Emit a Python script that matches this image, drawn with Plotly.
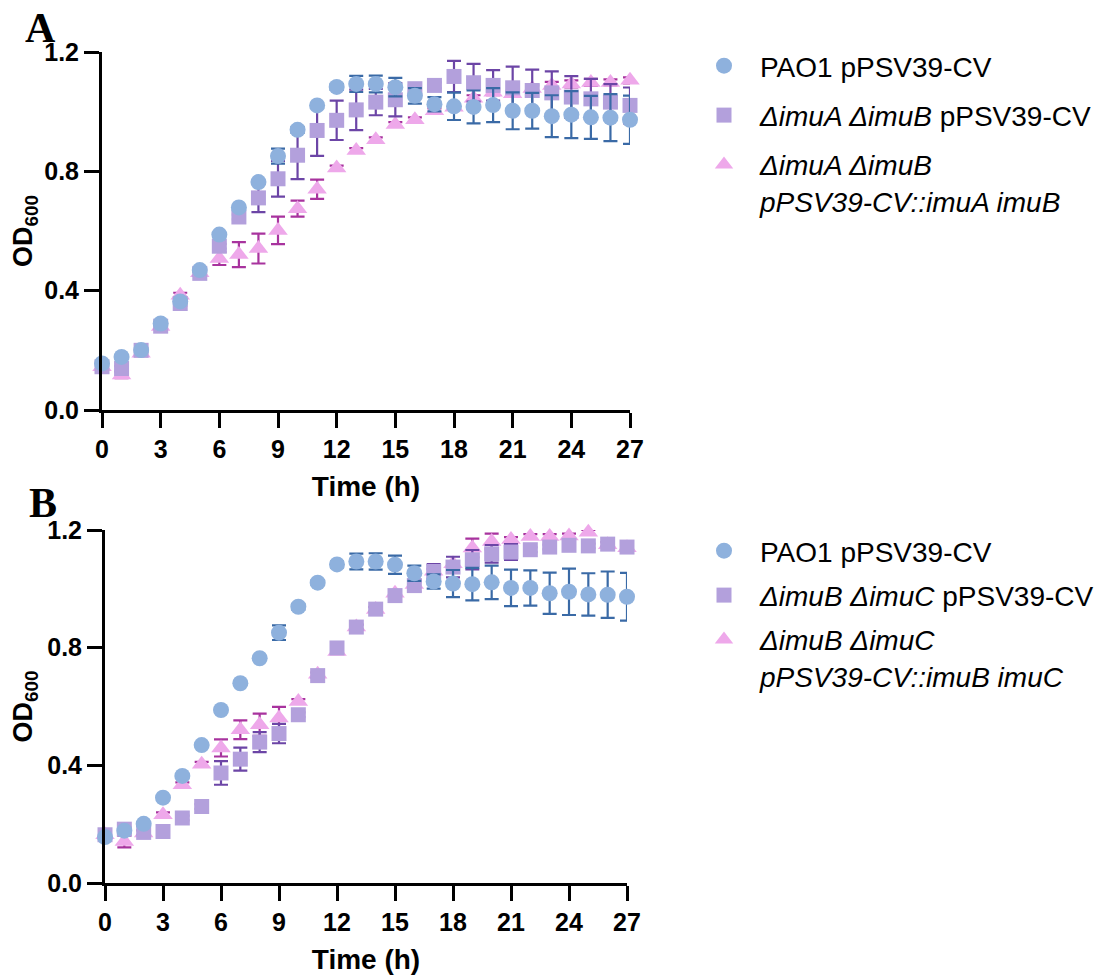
import plotly.graph_objects as go

# ---------------- data ----------------
time_h = list(range(28))

pao1_od = [0.156, 0.178, 0.201, 0.290, 0.364, 0.469, 0.588, 0.679, 0.764, 0.851,
           0.939, 1.021, 1.083, 1.093, 1.093, 1.082, 1.053, 1.025, 1.018, 1.016,
           1.022, 1.003, 1.003, 0.985, 0.990, 0.981, 0.980, 0.973]
pao1_err = [0.005, 0.005, 0.005, 0.005, 0.005, 0.005, 0.005, 0.005, 0.005, 0.025,
            0.010, 0.008, 0.010, 0.027, 0.028, 0.031, 0.026, 0.024, 0.046, 0.055,
            0.057, 0.062, 0.060, 0.070, 0.079, 0.072, 0.079, 0.081]

ab_cv_od = [0.145, 0.139, 0.200, 0.281, 0.357, 0.458, 0.549, 0.647, 0.711, 0.775,
            0.854, 0.937, 0.971, 1.006, 1.032, 1.040, 1.077, 1.088, 1.118, 1.097,
            1.088, 1.080, 1.071, 1.063, 1.049, 1.043, 1.032, 1.021]
ab_cv_err = [0.008, 0.008, 0.008, 0.008, 0.008, 0.008, 0.008, 0.008, 0.048, 0.060,
             0.080, 0.085, 0.066, 0.068, 0.044, 0.056, 0.010, 0.010, 0.052, 0.063,
             0.051, 0.071, 0.070, 0.072, 0.070, 0.067, 0.060, 0.060]

ab_comp_od = [0.145, 0.117, 0.190, 0.280, 0.385, 0.460, 0.508, 0.521, 0.541, 0.602,
              0.675, 0.740, 0.811, 0.870, 0.906, 0.957, 0.973, 1.003, 1.015, 1.045,
              1.065, 1.060, 1.078, 1.088, 1.093, 1.098, 1.098, 1.105]
ab_comp_err = [0.008, 0.010, 0.008, 0.008, 0.008, 0.008, 0.022, 0.042, 0.050, 0.046,
               0.027, 0.032, 0.008, 0.008, 0.008, 0.008, 0.008, 0.008, 0.008, 0.010,
               0.010, 0.010, 0.010, 0.012, 0.012, 0.012, 0.010, 0.010]

bc_cv_od = [0.164, 0.183, 0.172, 0.175, 0.221, 0.260, 0.374, 0.421, 0.479, 0.508,
            0.572, 0.705, 0.799, 0.870, 0.931, 0.977, 1.011, 1.059, 1.074, 1.099,
            1.119, 1.125, 1.133, 1.142, 1.148, 1.146, 1.152, 1.142]
bc_cv_err = [0.008, 0.008, 0.008, 0.008, 0.008, 0.008, 0.040, 0.039, 0.034, 0.033,
             0.008, 0.008, 0.008, 0.008, 0.008, 0.008, 0.020, 0.025, 0.035, 0.033,
             0.030, 0.027, 0.008, 0.008, 0.008, 0.008, 0.008, 0.008]

bc_comp_od = [0.164, 0.141, 0.170, 0.232, 0.334, 0.404, 0.459, 0.521, 0.538, 0.561,
              0.617, 0.710, 0.787, 0.870, 0.930, 0.985, 1.015, 1.060, 1.085, 1.139,
              1.161, 1.168, 1.178, 1.178, 1.180, 1.192, 1.150, 1.140]
bc_comp_err = [0.008, 0.020, 0.008, 0.008, 0.008, 0.008, 0.029, 0.032, 0.038, 0.038,
               0.008, 0.008, 0.008, 0.008, 0.008, 0.008, 0.008, 0.008, 0.008, 0.032,
               0.027, 0.008, 0.008, 0.008, 0.008, 0.008, 0.008, 0.008]

x_ticks = [0, 3, 6, 9, 12, 15, 18, 21, 24, 27]
y_ticks = [0.0, 0.4, 0.8, 1.2]

names_a = ["PAO1 pPSV39-CV",
           "<i>ΔimuA ΔimuB</i> pPSV39-CV",
           "<i>ΔimuA ΔimuB<br>pPSV39-CV::imuA imuB</i>"]
names_b = ["PAO1 pPSV39-CV",
           "<i>ΔimuB ΔimuC</i> pPSV39-CV",
           "<i>ΔimuB ΔimuC<br>pPSV39-CV::imuB imuC</i>"]

# ---------------- styles ----------------
C_BLUE, E_BLUE = "#8EB1DD", "#3A6AA6"
C_PURP, E_PURP = "#B3A0DC", "#6C45A6"
C_PINK, E_PINK = "#EEA8EA", "#A8339E"
SANS = "Liberation Sans, Arial, Helvetica, sans-serif"
SERIF = "Liberation Serif, Times New Roman, serif"

fig = go.Figure()


def add_series(y, err, name, color, ecolor, symbol, size, xa, ya, legend, rank):
    fig.add_trace(go.Scatter(
        x=time_h, y=y, name=name, mode="markers",
        marker=dict(color=color, symbol=symbol, size=size, line=dict(width=0)),
        error_y=dict(type="data", array=err, visible=True, color=ecolor,
                     thickness=2.2, width=7),
        xaxis=xa, yaxis=ya, legend=legend, legendrank=rank,
        legendgroup=legend + str(rank), cliponaxis=False,
    ))


# panel A (draw triangles first, circles on top)
add_series(ab_comp_od, ab_comp_err, names_a[2], C_PINK, E_PINK, "triangle-up", 17, "x", "y", "legend", 3)
add_series(ab_cv_od, ab_cv_err, names_a[1], C_PURP, E_PURP, "square", 15, "x", "y", "legend", 2)
add_series(pao1_od, pao1_err, names_a[0], C_BLUE, E_BLUE, "circle", 16, "x", "y", "legend", 1)
# panel B
add_series(bc_comp_od, bc_comp_err, names_b[2], C_PINK, E_PINK, "triangle-up", 17, "x2", "y2", "legend2", 3)
add_series(bc_cv_od, bc_cv_err, names_b[1], C_PURP, E_PURP, "square", 15, "x2", "y2", "legend2", 2)
add_series(pao1_od, pao1_err, names_b[0], C_BLUE, E_BLUE, "circle", 16, "x2", "y2", "legend2", 1)

# page has an 8px body margin: figure is placed at (8, 8)
W, H = 1099, 971

axis_common = dict(showline=True, linecolor="black", linewidth=3, ticks="outside",
                   ticklen=15, tickwidth=3, tickcolor="black", showgrid=False,
                   zeroline=False, mirror=False, automargin=False,
                   tickfont=dict(family=SANS, size=25, color="black", weight="bold"))

xa = dict(axis_common, range=[0, 27], tickvals=x_ticks,
          title=dict(text="Time (h)", standoff=15,
                     font=dict(family=SANS, size=28, color="black", weight="bold")))
ya = dict(axis_common, range=[0, 1.2], tickvals=y_ticks, tickformat=".1f",
          title=dict(text="OD<sub>600</sub>", standoff=10,
                     font=dict(family=SANS, size=27, color="black", weight="bold")))

legend_common = dict(font=dict(family=SANS, size=28, color="black"),
                     bgcolor="rgba(0,0,0,0)", valign="top", xanchor="left",
                     yanchor="top", itemsizing="trace", traceorder="grouped",
                     itemwidth=62)


def px(v):
    return v / W


def py(v):
    return 1 - v / H


fig.update_layout(
    width=W, height=H, plot_bgcolor="white", paper_bgcolor="white",
    margin=dict(l=0, r=0, t=0, b=0, autoexpand=False),
    xaxis=dict(xa, domain=[px(94), px(622)], anchor="y"),
    yaxis=dict(ya, domain=[py(402), py(44)], anchor="x"),
    xaxis2=dict(xa, domain=[px(97), px(619)], anchor="y2"),
    yaxis2=dict(ya, domain=[py(875), py(522)], anchor="x2"),
    legend=dict(legend_common, x=px(680), y=py(33), tracegroupgap=10),
    legend2=dict(legend_common, x=px(680), y=py(518), tracegroupgap=5),
    showlegend=True,
    annotations=[
        dict(text="<b>A</b>", x=px(32), y=py(20), xref="paper", yref="paper",
             showarrow=False, xanchor="center", yanchor="middle", height=34,
             valign="middle", font=dict(family=SERIF, size=42, color="black")),
        dict(text="<b>B</b>", x=px(35), y=py(495), xref="paper", yref="paper",
             showarrow=False, xanchor="center", yanchor="middle", height=34,
             valign="middle", font=dict(family=SERIF, size=42, color="black")),
    ],
)

fig.write_html("out.html")
